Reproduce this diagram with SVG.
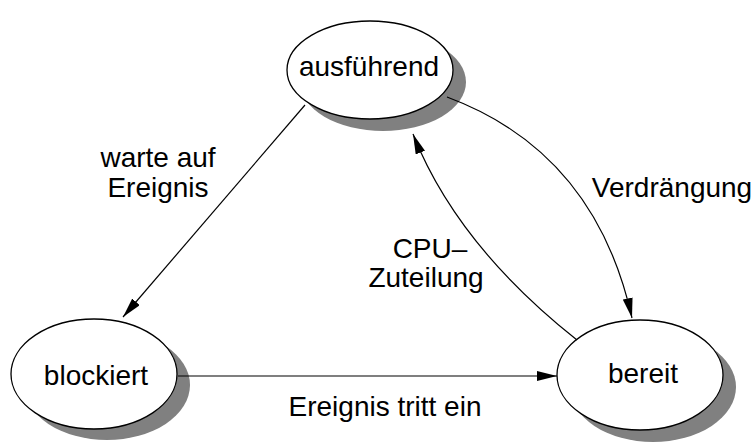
<svg xmlns="http://www.w3.org/2000/svg" width="754" height="442" viewBox="0 0 754 442">
<style>
.sh{fill:#808080;stroke:none}
.el{fill:#fff;stroke:#000;stroke-width:1.3}
.t{font-family:"Liberation Sans",Arial,sans-serif;font-size:28px;fill:#000;text-anchor:middle}
.c{fill:none;stroke:#000;stroke-width:1.2}
</style>
<defs>
<marker id="ah" viewBox="0 0 20 10" refX="20" refY="5" markerWidth="20" markerHeight="10" markerUnits="userSpaceOnUse" orient="auto">
<path d="M0,0 L20,5 L0,10 z" fill="#000"/>
</marker>
</defs>
<rect width="754" height="442" fill="#fff"/>
<g id="ausfuehrend">
<ellipse class="sh" cx="383" cy="82" rx="83" ry="49"/>
<ellipse class="el" cx="370" cy="70" rx="83" ry="49"/>
<text class="t" x="369" y="76">ausführend</text>
</g>
<g id="blockiert">
<ellipse class="sh" cx="107" cy="385" rx="83" ry="55"/>
<ellipse class="el" cx="94" cy="374" rx="83" ry="55"/>
<text class="t" x="96" y="385">blockiert</text>
</g>
<g id="bereit">
<ellipse class="sh" cx="653" cy="387" rx="83" ry="55"/>
<ellipse class="el" cx="640" cy="375" rx="83" ry="55"/>
<text class="t" x="643" y="383">bereit</text>
</g>
<g id="connectors">
<path class="c" d="M305,105 L123,317" marker-end="url(#ah)"/>
<path class="c" d="M178,376 L557,376" marker-end="url(#ah)"/>
<path class="c" d="M447,97 Q595,152 632,318" marker-end="url(#ah)"/>
<path class="c" d="M577,340 Q457,245 413,134" marker-end="url(#ah)"/>
</g>
<g id="labels">
<text class="t" x="158" y="167">warte auf</text>
<text class="t" x="158" y="197">Ereignis</text>
<text class="t" x="672" y="197">Verdrängung</text>
<text class="t" x="430" y="258">CPU–</text>
<text class="t" x="426" y="287">Zuteilung</text>
<text class="t" x="385" y="416">Ereignis tritt ein</text>
</g>
</svg>
